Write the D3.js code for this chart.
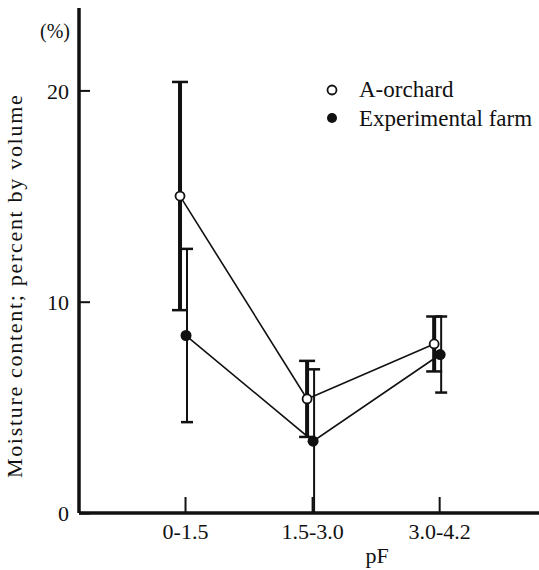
<!DOCTYPE html>
<html>
<head>
<meta charset="utf-8">
<script src="https://cdn.jsdelivr.net/npm/d3@7"></script>
<style>
  body { margin: 0; background: #fff; }
  text { font-family: "Liberation Serif", "DejaVu Serif", serif; fill: #111; }
</style>
</head>
<body>
<div id="chart"></div>
<script>
// data
var categories = ["0-1.5", "1.5-3.0", "3.0-4.2"];
var orchardMean = [15.0, 5.4, 8.0];
var orchardErr = [5.4, 1.8, 1.3];
var farmMean = [8.4, 3.4, 7.5];
var farmErr = [4.1, 3.4, 1.8];
var yTicks = [0, 10, 20];

var W = 539, H = 570;
var margin = { top: 8, right: 0, bottom: 57, left: 79 },
  width = W - margin.left - margin.right,
  height = H - margin.top - margin.bottom;

var svg = d3.select("#chart")
  .append("svg")
  .attr("width", W)
  .attr("height", H)
  .append("g")
  .attr("transform", "translate(" + margin.left + "," + margin.top + ")");

var x = d3.scalePoint()
  .domain(categories)
  .range([0, width])
  .padding(0.81)
  .align(0.515);

var y = d3.scaleLinear()
  .domain([0, 23.9])
  .range([height, 0]);

// y axis, ticks pointing inward
var yAxis = svg.append("g")
  .call(d3.axisLeft(y).tickValues(yTicks).tickSize(-11).tickPadding(10));
yAxis.select(".domain").remove();
yAxis.selectAll(".tick line").attr("stroke", "#111").attr("stroke-width", 2);
yAxis.selectAll("text").style("font-size", "22px").attr("dy", "0.35em");
svg.append("line")
  .attr("x1", 0).attr("x2", 0)
  .attr("y1", 0).attr("y2", height)
  .attr("stroke", "#111").attr("stroke-width", 3.5);

// x axis
var xAxis = svg.append("g")
  .attr("transform", "translate(0," + height + ")")
  .call(d3.axisBottom(x).tickSize(-16).tickPadding(10));
xAxis.select(".domain").remove();
xAxis.selectAll(".tick line").attr("stroke", "#111").attr("stroke-width", 2);
xAxis.selectAll("text").style("font-size", "22px");
svg.append("line")
  .attr("x1", 0).attr("x2", width)
  .attr("y1", height).attr("y2", height)
  .attr("stroke", "#111").attr("stroke-width", 3.5);

// axis titles
svg.append("text")
  .attr("x", -24).attr("y", 30)
  .attr("text-anchor", "middle")
  .style("font-size", "20px")
  .text("(%)");

svg.append("text")
  .attr("transform", "translate(-57," + y(10.75) + ") rotate(-90)")
  .attr("text-anchor", "middle")
  .style("font-size", "22px")
  .style("letter-spacing", "1.7px")
  .text("Moisture content;  percent by volume");

svg.append("text")
  .attr("x", x("1.5-3.0") + 65).attr("y", height + 50)
  .attr("text-anchor", "middle")
  .style("font-size", "22px")
  .text("pF");

var orchard = categories.map(function (c, i) {
  return { cat: c, mean: orchardMean[i], err: orchardErr[i] };
});
var farm = categories.map(function (c, i) {
  return { cat: c, mean: farmMean[i], err: farmErr[i] };
});

var offO = -5, offF = 1;

function drawErr(data, off, sw, cap) {
  var g = svg.append("g");
  g.selectAll("line.bar")
    .data(data).enter().append("line")
    .attr("x1", function (d) { return x(d.cat) + off; })
    .attr("x2", function (d) { return x(d.cat) + off; })
    .attr("y1", function (d) { return y(Math.max(0, d.mean - d.err)); })
    .attr("y2", function (d) { return y(d.mean + d.err); })
    .attr("stroke", "#111").attr("stroke-width", sw);
  [-1, 1].forEach(function (s) {
    g.selectAll("line.cap" + (s + 1))
      .data(data.filter(function (d) { return d.mean + s * d.err > 0.05; }))
      .enter().append("line")
      .attr("x1", function (d) { return x(d.cat) + off - cap; })
      .attr("x2", function (d) { return x(d.cat) + off + cap; })
      .attr("y1", function (d) { return y(d.mean + s * d.err); })
      .attr("y2", function (d) { return y(d.mean + s * d.err); })
      .attr("stroke", "#111").attr("stroke-width", 2.5);
  });
}

drawErr(orchard, offO, 4, 8);
drawErr(farm, offF + 1, 2, 6);

var line = function (off) {
  return d3.line()
    .x(function (d) { return x(d.cat) + off; })
    .y(function (d) { return y(d.mean); });
};

svg.append("path").datum(orchard)
  .attr("d", line(offO))
  .attr("fill", "none").attr("stroke", "#111").attr("stroke-width", 1.6);
svg.append("path").datum(farm)
  .attr("d", line(offF))
  .attr("fill", "none").attr("stroke", "#111").attr("stroke-width", 1.6);

svg.selectAll("circle.o")
  .data(orchard).enter().append("circle")
  .attr("cx", function (d) { return x(d.cat) + offO; })
  .attr("cy", function (d) { return y(d.mean); })
  .attr("r", 4.5)
  .attr("fill", "#fff").attr("stroke", "#111").attr("stroke-width", 1.8);

svg.selectAll("circle.f")
  .data(farm).enter().append("circle")
  .attr("cx", function (d) { return x(d.cat) + offF; })
  .attr("cy", function (d) { return y(d.mean); })
  .attr("r", 5.5)
  .attr("fill", "#111");

// legend
var legend = svg.append("g").attr("transform", "translate(253,82)");
legend.append("circle").attr("cx", 0).attr("cy", 0).attr("r", 4.5)
  .attr("fill", "#fff").attr("stroke", "#111").attr("stroke-width", 1.8);
legend.append("text").attr("x", 27).attr("y", 7)
  .style("font-size", "23px").text("A-orchard");
legend.append("circle").attr("cx", 0).attr("cy", 28).attr("r", 5)
  .attr("fill", "#111");
legend.append("text").attr("x", 27).attr("y", 36)
  .style("font-size", "23px").text("Experimental farm");
</script>
</body>
</html>
